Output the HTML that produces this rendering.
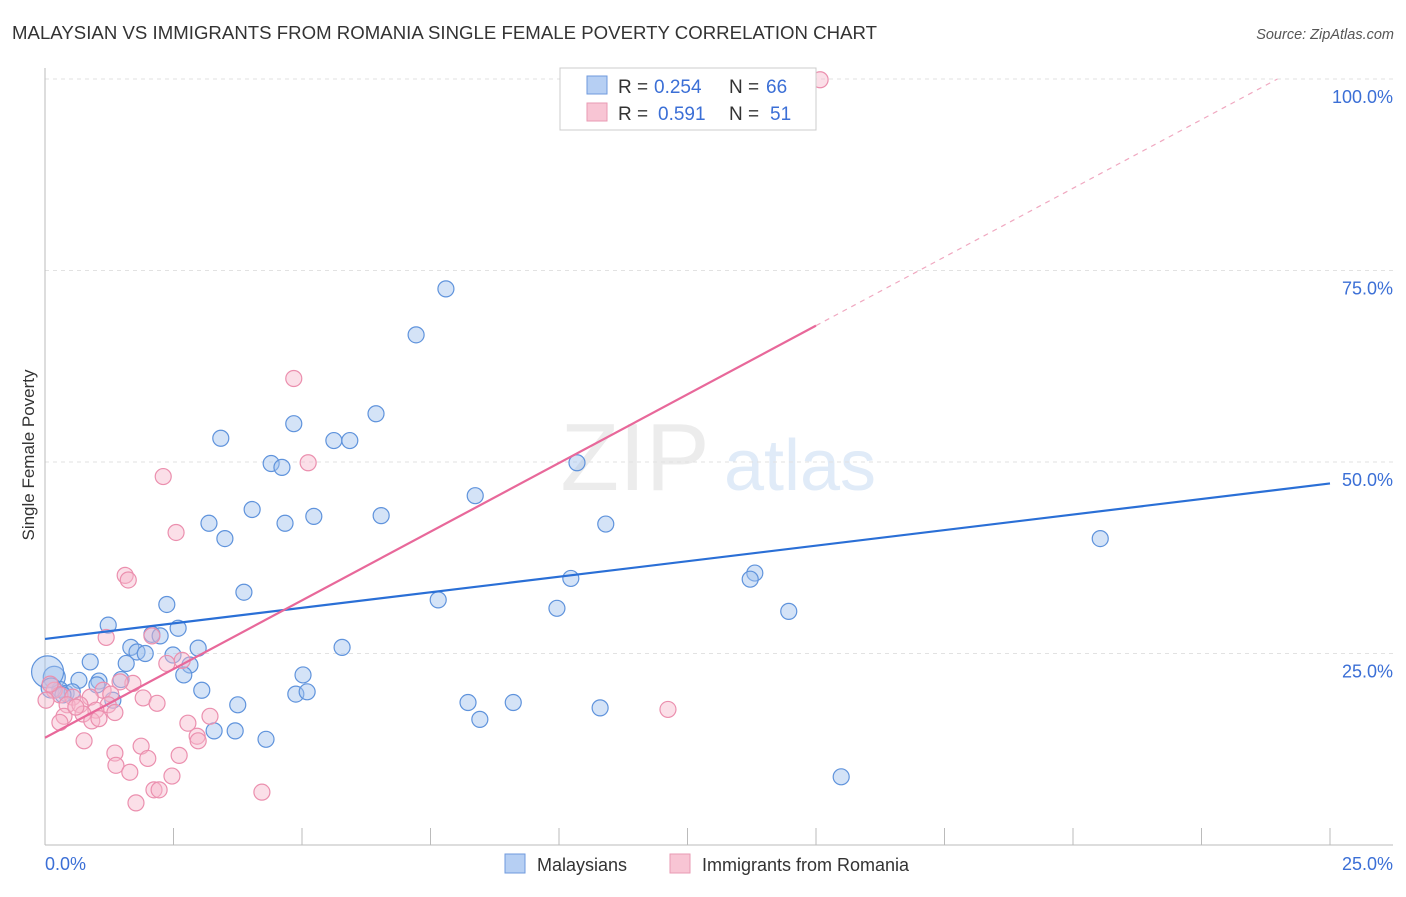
<!DOCTYPE html>
<html><head><meta charset="utf-8"><style>
body{margin:0;background:#fff;font-family:"Liberation Sans",sans-serif;}
svg text{font-family:"Liberation Sans",sans-serif;}
</style></head><body>
<svg id="chart" width="1406" height="892" xmlns="http://www.w3.org/2000/svg">
<text x="12" y="39" font-size="18.6" fill="#333" textLength="865">MALAYSIAN VS IMMIGRANTS FROM ROMANIA SINGLE FEMALE POVERTY CORRELATION CHART</text>
<text x="1394" y="39" font-size="14.5" fill="#555" font-style="italic" text-anchor="end">Source: ZipAtlas.com</text>
<text x="0" y="0" font-size="17" fill="#333" transform="translate(34,455) rotate(-90)" text-anchor="middle">Single Female Poverty</text>
<g><text x="635" y="490" font-size="96" fill="#ececec" text-anchor="middle" font-family="Liberation Serif,serif">ZIP</text><text x="800" y="490" font-size="72" fill="#e0ebf8" text-anchor="middle">atlas</text></g>
<g id="grid"></g><g id="axes"></g><g id="marks"></g><g id="lines"></g>
<g>
<rect x="560" y="68" width="256" height="62" fill="#fff" stroke="#ccc"/>
<rect x="587" y="76" width="20" height="18" fill="#b6cff3" stroke="#6f9ade"/>
<rect x="587" y="103" width="20" height="18" fill="#f8c5d4" stroke="#e99ab3"/>
<text x="618" y="93" font-size="19" fill="#333">R =</text>
<text x="654" y="93" font-size="19" fill="#3b6fd6">0.254</text>
<text x="729" y="93" font-size="19" fill="#333">N =</text>
<text x="766" y="93" font-size="19" fill="#3b6fd6">66</text>
<text x="618" y="120" font-size="19" fill="#333">R =</text>
<text x="658" y="120" font-size="19" fill="#3b6fd6">0.591</text>
<text x="729" y="120" font-size="19" fill="#333">N =</text>
<text x="770" y="120" font-size="19" fill="#3b6fd6">51</text>
</g>
<g>
<rect x="505" y="854" width="20" height="19" fill="#b6cff3" stroke="#6f9ade"/>
<text x="537" y="871" font-size="18" fill="#333">Malaysians</text>
<rect x="670" y="854" width="20" height="19" fill="#f8c5d4" stroke="#e99ab3"/>
<text x="702" y="871" font-size="18" fill="#333">Immigrants from Romania</text>
</g>
</svg>
<script>
const yTicks=[25,50,75,100];
const yTickLabels=["25.0%","50.0%","75.0%","100.0%"];
const xTickLabels=["0.0%","25.0%"];
const blueX=[7.80,7.22,6.44,4.84,3.42,5.62,5.93,4.40,4.61,10.35,8.37,4.03,5.23,6.54,3.19,4.67,10.91,3.50,20.53,10.23,13.81,13.72,3.87,7.65,9.96,14.47,2.37,1.23,2.59,2.08,2.24,1.67,2.98,5.78,1.79,1.95,2.49,0.88,1.58,2.82,2.70,5.02,0.18,0.66,1.05,1.48,1.01,3.05,0.29,0.41,0.53,4.88,5.10,1.32,8.23,9.11,3.75,10.80,8.46,3.29,3.70,4.30,15.49,0.05,0.12,0.35];
const blueY=[72.6,66.6,56.3,55.0,53.1,52.8,52.8,49.8,49.3,49.9,45.6,43.8,42.9,43.0,42.0,42.0,41.9,40.0,40.0,34.8,35.5,34.7,33.0,32.0,30.9,30.5,31.4,28.7,28.3,27.5,27.3,25.8,25.7,25.8,25.2,25.0,24.8,23.9,23.7,23.5,22.2,22.2,21.9,21.5,21.4,21.6,20.9,20.2,20.3,19.8,20.0,19.7,20.0,18.9,18.6,18.6,18.3,17.9,16.4,14.9,14.9,13.8,8.9,22.6,20.5,19.6];
const blueR=[8,8,8,8,8,8,8,8,8,8,8,8,8,8,8,8,8,8,8,8,8,8,8,8,8,8,8,8,8,8,8,8,8,8,8,8,8,8,8,8,8,8,11,8,8,8,8,8,8,8,8,8,8,8,8,8,8,8,8,8,8,8,8,16,10,8];
const pinkX=[15.08,4.84,5.12,2.30,2.55,1.56,1.62,1.19,2.08,2.67,2.37,1.71,1.46,0.18,0.29,0.54,1.13,1.28,1.91,2.18,0.88,0.43,0.68,1.23,0.99,1.36,0.37,0.74,0.91,0.29,2.78,3.21,12.12,0.76,2.96,2.98,1.87,1.36,2.61,2.00,1.38,1.65,2.47,2.12,2.22,1.77,4.22,0.02,0.10,0.60,1.05];
const pinkY=[99.9,60.9,49.9,48.1,40.8,35.2,34.6,27.1,27.3,24.1,23.7,21.1,21.3,20.2,19.6,19.3,20.2,19.7,19.2,18.5,19.3,18.3,18.3,18.3,17.6,17.3,16.8,17.1,16.2,16.0,15.9,16.8,17.7,13.6,14.2,13.6,12.9,12.0,11.7,11.3,10.4,9.5,9.0,7.2,7.2,5.5,6.9,18.9,21.0,18.0,16.5];
const blueLine=[26.9,47.2];
const pinkLine=[14.0,67.8];
const NS="http://www.w3.org/2000/svg";
const X0=45,X1=1330,Y0=845,Y1=79;
const sx=v=>X0+(v/25)*(X1-X0);
const sy=v=>Y0-(v/100)*(Y0-Y1);
function mk(t,a,p){const e=document.createElementNS(NS,t);for(const k in a)e.setAttribute(k,a[k]);p.appendChild(e);return e;}
const grid=document.getElementById('grid'),axes=document.getElementById('axes'),marks=document.getElementById('marks'),lines=document.getElementById('lines');
yTicks.forEach((t,i)=>{
 const g=mk('line',{x1:X0,x2:1393,y1:sy(t),y2:sy(t),stroke:'#e2e2e2','stroke-dasharray':'4,4'},grid);
 
 
 const tx=mk('text',{x:1393,y:sy(t)+24,'font-size':18,fill:'#3b6fd6','text-anchor':'end'},axes);
 tx.textContent=yTickLabels[i];
 
 
});
const la=mk('line',{x1:X0,x2:X0,y1:68,y2:Y0,stroke:'#bbb'},axes);


const ba=mk('line',{x1:X0,x2:1393,y1:Y0,y2:Y0,stroke:'#bbb'},axes);


for(let i=0;i<=10;i++){
 const tk=mk('line',{x1:sx(i*2.5),x2:sx(i*2.5),y1:Y0,y2:Y0-17,stroke:'#bbb'},axes);
 
 
}
[[0,'start',X0],[25,'end',1393]].forEach((d,i)=>{
 const t=mk('text',{x:d[2],y:870,'font-size':18,fill:'#3b6fd6','text-anchor':d[1]},axes);
 t.textContent=xTickLabels[i];
 
 
});
blueX.forEach((x,i)=>{
 const c=mk('circle',{cx:sx(x),cy:sy(blueY[i]),r:blueR[i],fill:'rgba(160,192,238,0.45)',stroke:'#5f93dc','stroke-width':1.2},marks);
 
 
});
pinkX.forEach((x,i)=>{
 const c=mk('circle',{cx:sx(x),cy:sy(pinkY[i]),r:8,fill:'rgba(246,184,204,0.45)',stroke:'#eb8fae','stroke-width':1.2},marks);
 
 
});
const bl=mk('line',{x1:sx(0),y1:sy(blueLine[0]),x2:sx(25),y2:sy(blueLine[1]),stroke:'#2a6fd6','stroke-width':2.2},lines);


const slope=(pinkLine[1]-pinkLine[0])/15;
const pl=mk('line',{x1:sx(0),y1:sy(pinkLine[0]),x2:sx(15),y2:sy(pinkLine[1]),stroke:'#e8689a','stroke-width':2.2},lines);


const xEnd=(100-pinkLine[0])/slope;
const pd=mk('line',{x1:sx(15),y1:sy(pinkLine[1]),x2:sx(xEnd),y2:sy(100),stroke:'#f0a8c0','stroke-width':1.2,'stroke-dasharray':'5,5'},lines);


</script>
</body></html>
